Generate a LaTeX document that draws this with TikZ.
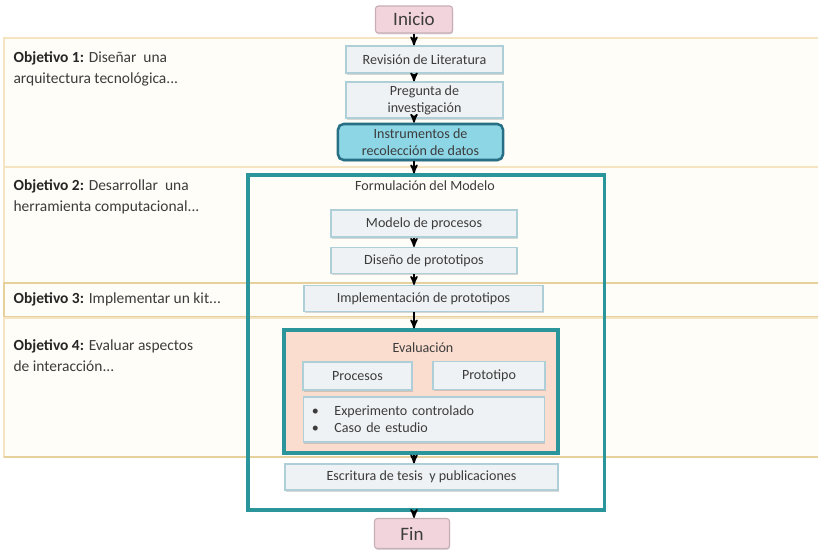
\documentclass[tikz,border=0pt]{standalone}
\usepackage{fontspec}
\setmainfont{Carlito}
\usetikzlibrary{arrows,shadows}

\definecolor{texto}{HTML}{3C3C3C}
\definecolor{rosa}{HTML}{F2D5DC}
\definecolor{rosaborde}{HTML}{C9AEB6}
\definecolor{caja}{HTML}{EFF2F4}
\definecolor{cajaborde}{HTML}{AFCFD8}
\definecolor{cian}{HTML}{8DD6E6}
\definecolor{cianborde}{HTML}{276F85}
\definecolor{teal}{HTML}{2A959B}
\definecolor{salmon}{HTML}{FBDDD0}
\definecolor{crema}{HTML}{FFFDF7}
\definecolor{cremaborde}{HTML}{F4E4C2}
\definecolor{tan}{HTML}{E6D19C}

\begin{document}
\begin{tikzpicture}[x=0.025cm,y=-0.025cm,->,>=stealth',thick,font=\color{texto},
	band/.style={-,draw=cremaborde,fill=crema,line width=0.8pt},
	end node/.style={draw=rosaborde,fill=rosa,rounded corners=2pt,font=\fontsize{13.5}{15}\selectfont\color{texto},drop shadow={shadow xshift=0.4pt,shadow yshift=-1pt,opacity=0.3}},
	flow node/.style={draw=cajaborde,fill=caja,align=center,font=\fontsize{10}{12}\selectfont\color{texto},inner sep=1pt,drop shadow={shadow xshift=0.4pt,shadow yshift=-1.2pt,opacity=0.3}},
	frame node/.style={draw=teal,line width=2.2pt},
	goal node/.style={anchor=north west,align=left,font=\fontsize{11}{15}\selectfont\color{texto},inner sep=0pt}]

	\useasboundingbox (0,0) rectangle (818,550);

	%bands of the objectives
	\draw[band] (4,38) rectangle (830,167);
	\draw[band] (4,167) rectangle (830,283);
	\draw[band,draw=tan,line width=1.2pt] (4,283) rectangle (830,317);
	\draw[band] (4,318) rectangle (830,457);
	\draw[-,draw=tan,line width=0.8pt] (4,457) -- (830,457);

	%objectives
	\node[goal node] (Obj1) at (13,51) {\textbf{\color{black!85}Objetivo 1:} Diseñar\ \ una\\arquitectura tecnológica...};
	\node[goal node] (Obj2) at (13,179) {\textbf{\color{black!85}Objetivo 2:} Desarrollar\ \ una\\herramienta computacional...};
	\node[goal node] (Obj3) at (13,292) {\textbf{\color{black!85}Objetivo 3:} Implementar un kit...};
	\node[goal node] (Obj4) at (13,339) {\textbf{\color{black!85}Objetivo 4:} Evaluar aspectos\\de interacción...};

	%frames
	\node[frame node, minimum width=8.9cm, minimum height=8.375cm] (Formulacion) at (426,342.5) {};
	\node[frame node, fill=salmon, minimum width=6.85cm, minimum height=3.075cm] (Evaluacion) at (421,391.5) {};
	\node[font=\fontsize{10}{12}\selectfont\color{texto}] (FormTitle) at (425,186) {Formulación del Modelo};
	\node[font=\fontsize{10}{12}\selectfont\color{texto}] (EvalTitle) at (423,348) {Evaluación};

	%nodes
	\node[end node, minimum width=1.925cm, minimum height=0.675cm] (Inicio) at (414,19.5) {Inicio};
	\node[flow node, minimum width=3.925cm, minimum height=0.675cm] (Revision) at (424.5,59.5) {Revisión de Literatura};
	\node[flow node, minimum width=3.925cm, minimum height=0.9cm] (Pregunta) at (424.5,100) {Pregunta de\\investigación};
	\node[flow node, fill=cian, draw=cianborde, line width=1.8pt, rounded corners=4pt, minimum width=4.125cm, minimum height=0.9cm] (Instrumentos) at (420.5,142) {Instrumentos de\\recolección de datos};
	\node[flow node, minimum width=4.65cm, minimum height=0.675cm] (Modelo) at (424,223.5) {Modelo de procesos};
	\node[flow node, minimum width=4.65cm, minimum height=0.65cm] (Diseno) at (424,260.5) {Diseño de prototipos};
	\node[flow node, minimum width=5.975cm, minimum height=0.65cm] (Implementacion) at (423.5,298.5) {Implementación de prototipos};
	\node[flow node, minimum width=2.725cm, minimum height=0.7cm] (Procesos) at (357.5,376) {Procesos};
	\node[flow node, minimum width=2.8cm, minimum height=0.7cm] (Prototipo) at (489,375.5) {Prototipo};
	\node[flow node, align=left, text width=5.6cm, inner xsep=0.22cm, minimum height=1.125cm] (Metodos) at (424,419.5) {\textbullet\hspace{1.1em}Experimento controlado\\\textbullet\hspace{1.1em}Caso de estudio};
	\node[flow node, minimum width=6.825cm, minimum height=0.65cm] (Escritura) at (421.5,477) {Escritura de tesis\ \ y publicaciones};
	\node[end node, minimum width=1.875cm, minimum height=0.75cm] (Fin) at (412,533.5) {Fin};

	%arrows down the column
	\path[line width=1.2pt]
		(Inicio.south) edge (Inicio.south |- Revision.north)
		(Revision.south -| Inicio) edge (Pregunta.north -| Inicio)
		(Pregunta.south -| Inicio) edge (Instrumentos.north -| Inicio)
		(Instrumentos.south -| Inicio) edge (Formulacion.north -| Inicio)
	%arrows inside the model
		(Modelo.south -| Inicio) edge (Diseno.north -| Inicio)
		(Diseno.south -| Inicio) edge (Implementacion.north -| Inicio)
		(Implementacion.south -| Inicio) edge (Evaluacion.north -| Inicio)
		(Evaluacion.south -| Inicio) edge (Escritura.north -| Inicio)
	%arrow to the end
		(Formulacion.south -| Inicio) edge (Fin.north -| Inicio);

\end{tikzpicture}
\end{document}
